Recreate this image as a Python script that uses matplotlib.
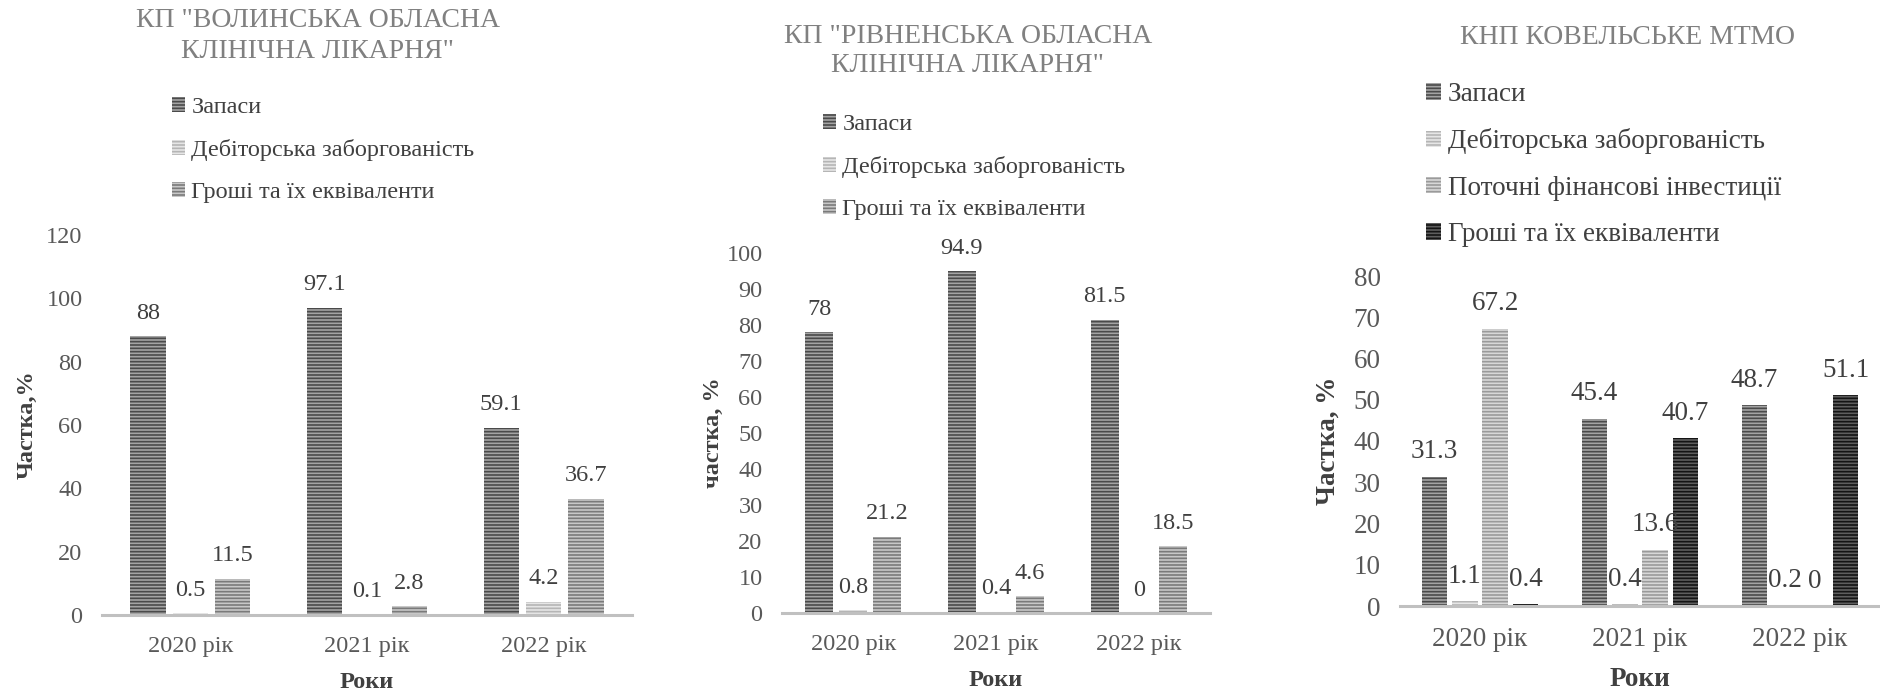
import matplotlib
matplotlib.use("Agg")
import matplotlib.pyplot as plt
import numpy as np

# =============================================================================
# DATA
# =============================================================================

YEARS = ["2020 рік", "2021 рік", "2022 рік"]

# КП "Волинська обласна клінічна лікарня"
ZAPASY_1 = [88, 97.1, 59.1]
DEBT_1 = [0.5, 0.1, 4.2]
CASH_1 = [11.5, 2.8, 36.7]

# КП "Рівненська обласна клінічна лікарня"
ZAPASY_2 = [78, 94.9, 81.5]
DEBT_2 = [0.8, 0.4, 0]
CASH_2 = [21.2, 4.6, 18.5]

# КНП Ковельське ТМО
ZAPASY_3 = [31.3, 45.4, 48.7]
DEBT_3 = [1.1, 0.4, 0.2]
INVEST_3 = [67.2, 13.6, 0]
CASH_3 = [0.4, 40.7, 51.1]

NAME_ZAPASY = "Запаси"
NAME_DEBT = "Дебіторська заборгованість"
NAME_INVEST = "Поточні фінансові інвестиції"
NAME_CASH = "Гроші та їх еквіваленти"

# =============================================================================
# STYLE
# =============================================================================

W, H = 1881, 693
plt.rcParams["font.family"] = ["Liberation Serif", "DejaVu Serif"]
plt.rcParams["hatch.linewidth"] = 1.2

# (face, stripe colour)
ST_ZAPASY = ("#a4a4a4", "#4a4a4a")
ST_DEBT = ("#e6e6e6", "#b5b5b5")
ST_CASH = ("#c8c8c8", "#7a7a7a")
ST_INVEST = ("#d8d8d8", "#9a9a9a")
ST_CASH_DARK = ("#5e5e5e", "#141414")

HATCH = "-----"


def px(x, y):
    return x / W, 1 - y / H


def box(left, right, top, bottom):
    return [left / W, 1 - bottom / H, (right - left) / W, (bottom - top) / H]


def draw_panel(ax, series, names, styles, width, step, ymax, ystep, fs, ylabel):
    x = np.arange(len(YEARS))
    n = len(series)
    handles = []
    for i, (vals, name, st) in enumerate(zip(series, names, styles)):
        off = (i - (n - 1) / 2) * step
        bars = ax.bar(x + off, vals, width, facecolor=st[0], edgecolor=st[1],
                      hatch=HATCH, linewidth=0, label=name)
        handles.append(bars)
        for xi, v in zip(x + off, vals):
            ax.annotate(f"{v:g}", (xi, v), xytext=(0, 9), textcoords="offset points",
                        ha="center", va="bottom", fontsize=fs, color="#404040")
    ax.set_xlim(-0.5, len(YEARS) - 0.5)
    ax.set_ylim(0, ymax)
    ax.set_yticks(np.arange(0, ymax + 0.1, ystep))
    ax.set_xticks(x)
    ax.set_xticklabels(YEARS)
    ax.tick_params(axis="both", length=0, labelsize=fs, colors="#595959")
    ax.tick_params(axis="x", pad=15)
    ax.tick_params(axis="y", pad=14)
    for s in ["top", "right", "left"]:
        ax.spines[s].set_visible(False)
    ax.spines["bottom"].set_color("#c0c0c0")
    ax.spines["bottom"].set_linewidth(2.2)
    ax.set_xlabel("Роки", fontsize=fs, fontweight="bold", color="#404040", labelpad=11)
    ax.set_ylabel(ylabel, fontsize=fs, fontweight="bold", color="#404040")
    return handles


fig = plt.figure(figsize=(W / 100, H / 100), dpi=100)

ax1 = fig.add_axes(box(102, 632, 235, 615))
ax2 = fig.add_axes(box(782, 1210, 253, 613))
ax3 = fig.add_axes(box(1400, 1880, 276, 606))

h1 = draw_panel(ax1, [ZAPASY_1, DEBT_1, CASH_1], [NAME_ZAPASY, NAME_DEBT, NAME_CASH],
                [ST_ZAPASY, ST_DEBT, ST_CASH], 0.2, 0.24, 120, 20, 17.5, "Частка,%")
h2 = draw_panel(ax2, [ZAPASY_2, DEBT_2, CASH_2], [NAME_ZAPASY, NAME_DEBT, NAME_CASH],
                [ST_ZAPASY, ST_DEBT, ST_CASH], 0.196, 0.239, 100, 10, 17.5, "частка, %")
h3 = draw_panel(ax3, [ZAPASY_3, DEBT_3, INVEST_3, CASH_3],
                [NAME_ZAPASY, NAME_DEBT, NAME_INVEST, NAME_CASH],
                [ST_ZAPASY, ST_DEBT, ST_INVEST, ST_CASH_DARK], 0.16, 0.19, 80, 10, 19.5,
                "Частка, %")

# y-label positions (figure pixels)
for ax, xl in [(ax1, 27), (ax2, 713), (ax3, 1328)]:
    ax.yaxis.label.set_va("center")
    pos = ax.get_position()
    ax.yaxis.set_label_coords(xl / W, pos.y0 + pos.height / 2, transform=fig.transFigure)

# legends
for ax, handles, (lx, ly), fs, sp in [(ax1, h1, (172, 97), 17.5, 0.87),
                                       (ax2, h2, (823, 114), 17.5, 0.87),
                                       (ax3, h3, (1426, 82), 19.5, 0.79)]:
    leg = ax.legend(handles=handles, loc="upper left", bbox_to_anchor=px(lx, ly),
                    bbox_transform=fig.transFigure, frameon=False, fontsize=fs,
                    handlelength=0.55, handleheight=0.55, handletextpad=0.25,
                    labelspacing=sp, borderpad=0, borderaxespad=0)
    for t in leg.get_texts():
        t.set_color("#404040")

# titles
fig.text(*px(318, 36), 'КП "ВОЛИНСЬКА ОБЛАСНА\nКЛІНІЧНА ЛІКАРНЯ"', ha="center", va="center",
         fontsize=20, color="#808080", linespacing=1.3)
fig.text(*px(968, 51), 'КП "РІВНЕНСЬКА ОБЛАСНА\nКЛІНІЧНА ЛІКАРНЯ"', ha="center", va="center",
         fontsize=20, color="#808080", linespacing=1.2)
fig.text(*px(1627, 37), "КНП КОВЕЛЬСЬКЕ МТМО", ha="center", va="center",
         fontsize=20, color="#808080")

fig.savefig("out.png", dpi=100)
